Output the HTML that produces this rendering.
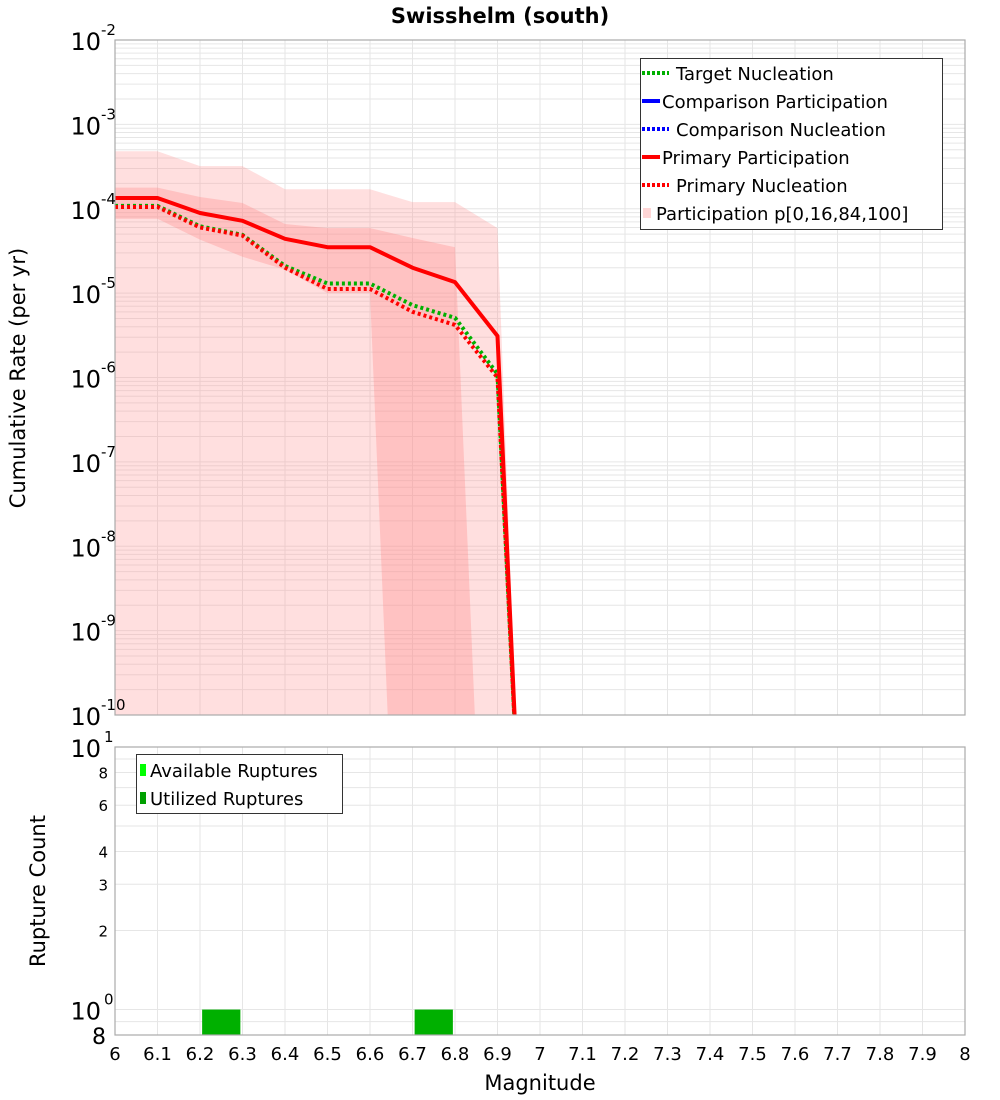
<!DOCTYPE html>
<html><head><meta charset="utf-8"><style>
html,body{margin:0;padding:0;background:#fff}
svg{display:block;font-family:"DejaVu Sans","Liberation Sans",sans-serif}
</style></head><body>
<svg id="chart" width="1000" height="1100" viewBox="0 0 1000 1100" xmlns="http://www.w3.org/2000/svg">
<text x="500" y="23" text-anchor="middle" font-size="21" font-weight="bold">Swisshelm (south)</text>
<g id="topPlot"></g>
<g id="botPlot"></g>
<text transform="translate(25,378) rotate(-90)" text-anchor="middle" font-size="21">Cumulative Rate (per yr)</text>
<text transform="translate(45,891) rotate(-90)" text-anchor="middle" font-size="21">Rupture Count</text>
<text x="540" y="1090" text-anchor="middle" font-size="21">Magnitude</text>
</svg>
<script>
const mags=[6.0,6.1,6.2,6.3,6.4,6.5,6.6,6.7,6.8,6.9,6.95];
const primaryPart=[1.34e-4,1.34e-4,8.9e-5,7.2e-5,4.4e-5,3.5e-5,3.5e-5,2.0e-5,1.35e-5,3.1e-6,8e-12];
const primaryNucl=[1.05e-4,1.05e-4,6.0e-5,4.8e-5,2.0e-5,1.12e-5,1.12e-5,6.0e-6,4.2e-6,1.0e-6,8e-12];
const targetNucl=[1.08e-4,1.08e-4,6.2e-5,4.9e-5,2.1e-5,1.3e-5,1.3e-5,7.2e-6,5.1e-6,1.1e-6,8e-12];
const outerMags=[6.0,6.1,6.2,6.3,6.4,6.5,6.6,6.7,6.8,6.9,6.95];
const outerUpper=[4.8e-4,4.8e-4,3.2e-4,3.2e-4,1.7e-4,1.7e-4,1.7e-4,1.2e-4,1.2e-4,5.9e-5,1e-11];
const outerLower=[1e-11,1e-11,1e-11,1e-11,1e-11,1e-11,1e-11,1e-11,1e-11,1e-11,1e-11];
const innerUpperMags=[6.0,6.1,6.2,6.3,6.4,6.5,6.6,6.7,6.8,6.85];
const innerUpper=[1.78e-4,1.78e-4,1.38e-4,1.17e-4,6.6e-5,5.9e-5,5.9e-5,4.5e-5,3.5e-5,4e-11];
const innerLowerMags=[6.0,6.1,6.2,6.3,6.4,6.5,6.6,6.65,6.85];
const innerLower=[7.6e-5,7.6e-5,4.3e-5,2.7e-5,1.9e-5,1.0e-5,1.0e-5,1e-11,1e-11];
const barMags=[6.25,6.75];
const barCounts=[1,1];
const xTicks=["6","6.1","6.2","6.3","6.4","6.5","6.6","6.7","6.8","6.9","7","7.1","7.2","7.3","7.4","7.5","7.6","7.7","7.8","7.9","8"];
const topExps=[-2,-3,-4,-5,-6,-7,-8,-9,-10];
const botMinor=["8","6","4","3","2"];

const NS="http://www.w3.org/2000/svg";
const L=115,R=965,T1=40,B1=715,T2=747,B2=1035;
const X=m=>L+(m-6)/2*(R-L);
const Y1=v=>T1+(-2-Math.log10(v))/8*(B1-T1);
const lmin=Math.log10(0.8),lmax=1;
const Y2=v=>T2+(lmax-Math.log10(v))/(lmax-lmin)*(B2-T2);
function el(p,t,a){const e=document.createElementNS(NS,t);for(const k in a)e.setAttribute(k,a[k]);p.appendChild(e);return e;}
const topG=document.getElementById('topPlot'),botG=document.getElementById('botPlot');

const defs=el(document.getElementById('chart'),'defs',{});
const c1=el(defs,'clipPath',{id:'c1'});el(c1,'rect',{x:L,y:T1,width:R-L,height:B1-T1});
const c2=el(defs,'clipPath',{id:'c2'});el(c2,'rect',{x:L,y:T2,width:R-L,height:B2-T2});

const g1=el(topG,'g',{stroke:'#e6e6e6','stroke-width':1});


for(let d=-10;d<-2;d++)for(let k=1;k<10;k++){const y=Y1(k*Math.pow(10,d));el(g1,'line',{x1:L,x2:R,y1:y,y2:y});}
xTicks.forEach((t,i)=>{const x=X(6+i*0.1);el(g1,'line',{x1:x,x2:x,y1:T1,y2:B1});});

function band(mu,up,ml,lo,fill,name){let d='';mu.forEach((m,i)=>{d+=(i?'L':'M')+X(m)+','+Y1(up[i]);});
 for(let i=ml.length-1;i>=0;i--)d+='L'+X(ml[i])+','+Y1(lo[i]);d+='Z';
 const p=el(topG,'path',{d:d,fill:fill,'clip-path':'url(#c1)'});
 
 }
band(outerMags,outerUpper,outerMags,outerLower,'rgba(255,150,150,0.3)','band-p0-p100');
band(innerUpperMags,innerUpper,innerLowerMags,innerLower,'rgba(255,140,140,0.35)','band-p16-p84');

function line(vals,color,dash,w,name){const pts=mags.map((m,i)=>X(m)+','+Y1(vals[i])).join(' ');
 const a={points:pts,fill:'none',stroke:color,'stroke-width':w,'clip-path':'url(#c1)','stroke-linejoin':'round'};if(dash)a['stroke-dasharray']=dash;
 const p=el(topG,'polyline',a);
 
 }
line(targetNucl,'#00b000','3,3',4,'target-nucleation-line');
line(primaryNucl,'#ff0000','3,3',4,'primary-nucleation-line');
line(primaryPart,'#ff0000',null,4,'primary-participation-line');

el(topG,'rect',{x:L,y:T1,width:R-L,height:B1-T1,fill:'none',stroke:'#aaa','stroke-width':1.2});

topExps.forEach(e=>{const y=Y1(Math.pow(10,e));
 const t=el(topG,'text',{x:101,y:y+10,'text-anchor':'end','font-size':24});t.textContent='10';
 
 
 const s=el(topG,'text',{x:101,y:y-5,'font-size':15});s.textContent=String(e);
 
 });

const lg=el(topG,'g',{});


el(lg,'rect',{x:640.5,y:58.5,width:302,height:171,fill:'#fff',stroke:'#333','stroke-width':1});
const items=[['Target Nucleation','#00b000',1],['Comparison Participation','#0000ff',0],['Comparison Nucleation','#0000ff',1],['Primary Participation','#ff0000',0],['Primary Nucleation','#ff0000',1],['Participation p[0,16,84,100]','#ffd6d6',2]];
items.forEach((it,i)=>{const y=73+i*28;
 if(it[2]==2){el(lg,'rect',{x:643,y:y-5,width:8,height:10,fill:it[1]});}
 else el(lg,'line',{x1:642,x2:it[2]?669:660,y1:y,y2:y,stroke:it[1],'stroke-width':4,'stroke-dasharray':it[2]?'3,2':'none'});
 const t=el(lg,'text',{x:it[2]==1?676:(it[2]==2?656:662),y:y+7,'font-size':18});t.textContent=it[0];
 
 });

const g2=el(botG,'g',{stroke:'#e6e6e6','stroke-width':1});


[0.8,0.9,1,2,3,4,5,6,7,8,9,10].forEach(v=>{const y=Y2(v);el(g2,'line',{x1:L,x2:R,y1:y,y2:y});});
xTicks.forEach((t,i)=>{const x=X(6+i*0.1);el(g2,'line',{x1:x,x2:x,y1:T2,y2:B2});});
barMags.forEach((m,i)=>{const r=el(botG,'rect',{x:X(m-0.045),y:Y2(barCounts[i]),width:X(m+0.045)-X(m-0.045),height:B2-Y2(barCounts[i]),fill:'#00b000','clip-path':'url(#c2)'});
 
 });
el(botG,'rect',{x:L,y:T2,width:R-L,height:B2-T2,fill:'none',stroke:'#aaa','stroke-width':1.2});

[[10,'1'],[1,'0']].forEach(a=>{const y=Y2(a[0]);
 const t=el(botG,'text',{x:101,y:y+10,'text-anchor':'end','font-size':24});t.textContent='10';
 
 
 const s=el(botG,'text',{x:104,y:y-5,'font-size':15});s.textContent=a[1];
 
 });
botMinor.forEach(v=>{const t=el(botG,'text',{x:108,y:Y2(+v)+6,'text-anchor':'end','font-size':15});t.textContent=v;
 
 });
{const t=el(botG,'text',{x:106,y:B2+9,'text-anchor':'end','font-size':22});t.textContent='8';
 
 }

const lb=el(botG,'g',{});


el(lb,'rect',{x:136.5,y:754.5,width:206,height:59,fill:'#fff',stroke:'#333','stroke-width':1});
[['Available Ruptures','#00ff00'],['Utilized Ruptures','#00a000']].forEach((it,i)=>{const y=770+i*28;
 el(lb,'rect',{x:140,y:y-6,width:6,height:12,fill:it[1]});
 const t=el(lb,'text',{x:150,y:y+7,'font-size':18});t.textContent=it[0];
 
 });

xTicks.forEach((t,i)=>{const e=el(botG,'text',{x:X(6+i*0.1),y:1060,'text-anchor':'middle','font-size':18});e.textContent=t;
 
 });
</script>
</body></html>
